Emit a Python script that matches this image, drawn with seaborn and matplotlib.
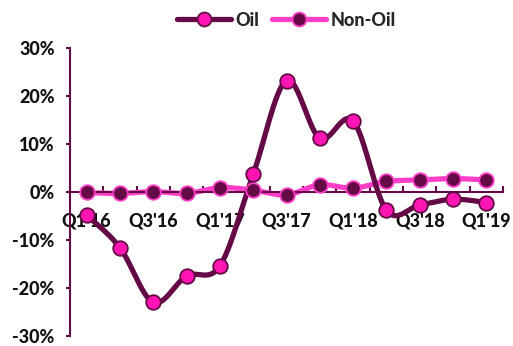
import numpy as np
import pandas as pd
import seaborn as sns
import matplotlib
matplotlib.use("Agg")
import matplotlib.pyplot as plt
from matplotlib.lines import Line2D
from matplotlib.ticker import FixedLocator, FuncFormatter

quarters = ["Q1'16", "Q2'16", "Q3'16", "Q4'16", "Q1'17", "Q2'17", "Q3'17",
            "Q4'17", "Q1'18", "Q2'18", "Q3'18", "Q4'18", "Q1'19"]
oil = [-4.8, -11.6, -23.0, -17.5, -15.4, 3.7, 23.2, 11.2, 14.8, -3.8, -2.7, -1.5, -2.2]
non_oil = [-0.1, -0.3, 0.1, -0.3, 0.9, 0.4, -0.6, 1.5, 0.8, 2.2, 2.5, 2.8, 2.5]
y_ticks = [-30, -20, -10, 0, 10, 20, 30]

DARK = "#640a46"
PINK = "#ff3ec8"
PINK_FILL = "#ff14b4"
WEIGHT = 900


def smooth(xs, ys, steps=30):
    """Catmull-Rom curve through the points (same look as a smoothed line)."""
    xs = np.asarray(xs, float)
    ys = np.asarray(ys, float)
    px = np.concatenate([[xs[0]], xs, [xs[-1]]])
    py = np.concatenate([[ys[0]], ys, [ys[-1]]])
    out_x, out_y = [], []
    t = np.linspace(0, 1, steps, endpoint=False)
    for i in range(1, len(px) - 2):
        p0, p1, p2, p3 = (np.array([px[j], py[j]]) for j in (i - 1, i, i + 1, i + 2))
        c1 = p1 + (p2 - p0) / 6
        c2 = p2 - (p3 - p1) / 6
        b = ((1 - t) ** 3)[:, None] * p1 + (3 * (1 - t) ** 2 * t)[:, None] * c1 \
            + (3 * (1 - t) * t ** 2)[:, None] * c2 + (t ** 3)[:, None] * p2
        out_x.extend(b[:, 0]); out_y.extend(b[:, 1])
    out_x.append(xs[-1]); out_y.append(ys[-1])
    return np.array(out_x), np.array(out_y)


df = pd.DataFrame({"pos": np.arange(len(quarters)), "quarter": quarters,
                   "oil": oil, "non_oil": non_oil})

sns.set_theme(style="white")
plt.rcParams["font.family"] = ["Lato", "DejaVu Sans"]
plt.rcParams["font.weight"] = WEIGHT

fig = plt.figure(figsize=(5.13, 3.46), dpi=100)
ax = fig.add_axes([70 / 513, 10 / 346, 433 / 513, 288 / 346])

for col, lc in (("non_oil", PINK), ("oil", DARK)):
    sx, sy = smooth(df["pos"], df[col])
    curve = pd.DataFrame({"x": sx, "y": sy})
    sns.lineplot(data=curve, x="x", y="y", ax=ax, color=lc, lw=3.8,
                 sort=False, estimator=None, zorder=2 if col == "non_oil" else 3)

sns.scatterplot(data=df, x="pos", y="non_oil", ax=ax, s=110, color=DARK,
                edgecolor=PINK, linewidth=1.3, zorder=4)
sns.scatterplot(data=df, x="pos", y="oil", ax=ax, s=110, color=PINK_FILL,
                edgecolor=DARK, linewidth=1.3, zorder=5)

ax.set_xlim(-0.5, len(quarters) - 0.5)
ax.set_ylim(-30, 30)
ax.set_xlabel("")
ax.set_ylabel("")

for s in ("top", "right"):
    ax.spines[s].set_visible(False)
ax.spines["left"].set_color(DARK)
ax.spines["left"].set_linewidth(1.5)
ax.spines["bottom"].set_color(DARK)
ax.spines["bottom"].set_linewidth(1.5)
ax.spines["bottom"].set_position(("data", 0))

ax.set_yticks(y_ticks)
ax.yaxis.set_major_formatter(FuncFormatter(lambda v, p: f"{v:.0f}%"))
ax.tick_params(axis="y", direction="out", length=3, width=1.5, color=DARK,
               labelsize=13, labelcolor="#111111", pad=8, left=True)

ax.set_xticks(df["pos"][::2])
ax.set_xticklabels(df["quarter"][::2])
ax.xaxis.set_minor_locator(FixedLocator(np.arange(-0.5, len(quarters), 1.0)))
ax.tick_params(axis="x", which="major", length=0, labelsize=13,
               labelcolor="#111111", pad=15)
ax.tick_params(axis="x", which="minor", direction="in", length=4, width=1.5,
               color=DARK, bottom=True)
for lab in ax.get_xticklabels() + ax.get_yticklabels():
    lab.set_fontweight(WEIGHT)

handles = [
    Line2D([], [], color=DARK, lw=3.8, marker="o", markersize=10,
           markerfacecolor=PINK_FILL, markeredgecolor=DARK, markeredgewidth=1.3),
    Line2D([], [], color=PINK, lw=3.8, marker="o", markersize=10,
           markerfacecolor=DARK, markeredgecolor=PINK, markeredgewidth=1.3),
]
ax.legend(handles, ["Oil", "Non-Oil"], loc="center", bbox_to_anchor=(0.5, 1.097),
          ncol=2, frameon=False, handlelength=3.0, handletextpad=0.25,
          columnspacing=0.7, prop={"size": 13, "weight": WEIGHT})

fig.savefig("out.png", dpi=100)
